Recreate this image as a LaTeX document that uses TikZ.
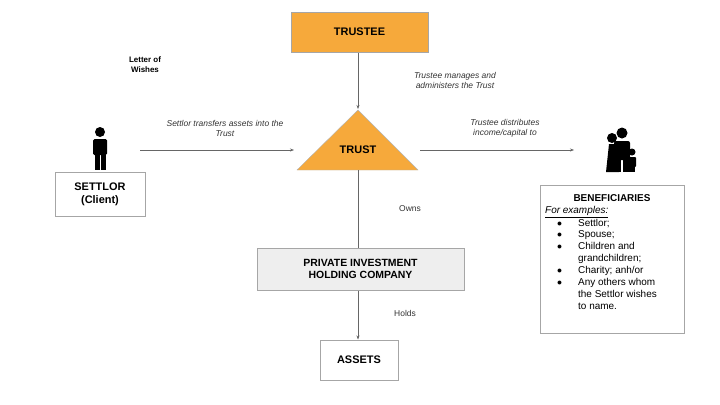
\documentclass[tikz,border=0pt]{standalone}
\usepackage{fontspec}
\setmainfont{Liberation Sans}
\usetikzlibrary{positioning,arrows.meta}
\definecolor{trustorange}{HTML}{F6A93B}
\definecolor{boxgray}{HTML}{EEEEEE}
\tikzset{
  box/.style={draw=gray!70, line width=1pt, fill=white, font=\bfseries, align=center},
  flow/.style={draw=gray!80!black, line width=0.5pt, -{Stealth[length=4pt]}},
  note/.style={font=\itshape\fontsize{8.5}{10}\selectfont, align=center, text=black!80},
}
\begin{document}
\begin{tikzpicture}[x=1bp, y=-1bp]
  \useasboundingbox (0,0) rectangle (720,404);

  % Trustee
  \node[box, fill=trustorange, minimum width=137bp, minimum height=40bp,
        font=\bfseries\fontsize{11}{13}\selectfont] (trustee) at (359.5,32) {TRUSTEE};

  % Trust triangle
  \draw[fill=trustorange, draw=gray!60] (358,110) -- (418,170) -- (297,170) -- cycle;
  \node[font=\bfseries\fontsize{11}{13}\selectfont] (trust) at (358,150) {TRUST};
  \coordinate (apex) at (358,109);
  \coordinate (tbase) at (358,170);
  \coordinate (tleft) at (294,150);
  \coordinate (tright) at (420,150);

  \node[font=\bfseries\fontsize{8}{10}\selectfont, align=center] (wishes) at (145,65) {Letter of\\Wishes};

  % Settlor
  \fill (100,132) circle (5);
  \fill[rounded corners=1.5] (93,139) rectangle (107,155);
  \fill (94.5,154) rectangle (99.5,170);
  \fill (100.5,154) rectangle (105.5,170);
  \node[box, minimum width=90bp, minimum height=44bp,
        font=\bfseries\fontsize{11}{13}\selectfont] (settlor) at (100,194) {SETTLOR\\(Client)};
  \coordinate (sout) at (140,150);

  % Family icon
  \fill (622,133) circle (5.5);
  \fill[rounded corners=2] (614,141) rectangle (630,160);
  \fill (615,159) rectangle (621,172);
  \fill (623,159) rectangle (629,172);
  \fill (612,138) circle (5);
  \fill (606,172) -- (609,144) -- (615,144) -- (619,172) -- cycle;
  \fill (632,152) circle (3.5);
  \fill[rounded corners=1] (628,157) rectangle (636,167);
  \fill (629,166) rectangle (635,172);
  \coordinate (bin) at (574,150);

  \node[box, font=\normalfont, draw=gray!70, minimum width=144bp, minimum height=148bp] (benef) at (612,259) {};
  \node[font=\bfseries\fontsize{10}{12}\selectfont] (btitle) at (612,198) {BENEFICIARIES};
  \node[anchor=north west, font=\fontsize{10}{12}\selectfont, inner sep=0pt] (blist) at (545,205)
    {\begin{tabular}{@{}l@{\hspace{16bp}}l@{}}
     \multicolumn{2}{@{}l}{\underline{\itshape For examples:}}\\
     \hspace*{12bp}$\bullet$ & Settlor;\\
     \hspace*{12bp}$\bullet$ & Spouse;\\
     \hspace*{12bp}$\bullet$ & Children and\\
      & grandchildren;\\
     \hspace*{12bp}$\bullet$ & Charity; anh/or\\
     \hspace*{12bp}$\bullet$ & Any others whom\\
      & the Settlor wishes\\
      & to name.
     \end{tabular}};

  % Company and assets
  \node[box, fill=boxgray, minimum width=207bp, minimum height=42bp,
        font=\bfseries\fontsize{10.5}{12.5}\selectfont] (company) at (360.5,269) {PRIVATE INVESTMENT\\HOLDING COMPANY};
  \node[box, minimum width=78bp, minimum height=40bp,
        font=\bfseries\fontsize{11}{13}\selectfont] (assets) at (359,360) {ASSETS};

  % Connectors
  \draw[flow] (trustee.south -| apex) -- (apex);
  \draw[flow] (sout) -- (tleft);
  \draw[flow] (tright) -- (bin);
  \draw[draw=gray!80!black, line width=0.5pt] (tbase) -- (company.north -| tbase);
  \draw[flow] (company.south -| tbase) -- (assets.north -| tbase);

  % Labels
  \node[note] (lmanage) at (455,80) {Trustee manages and\\administers the Trust};
  \node[note] (ltransfer) at (225,128) {Settlor transfers assets into the\\Trust};
  \node[note] (ldist) at (505,128) {Trustee distributes\\income/capital to};
  \node[font=\fontsize{8.5}{10}\selectfont, text=black!80] (lowns) at (410,209) {Owns};
  \node[font=\fontsize{8.5}{10}\selectfont, text=black!80] (lholds) at (405,313) {Holds};
\end{tikzpicture}
\end{document}
